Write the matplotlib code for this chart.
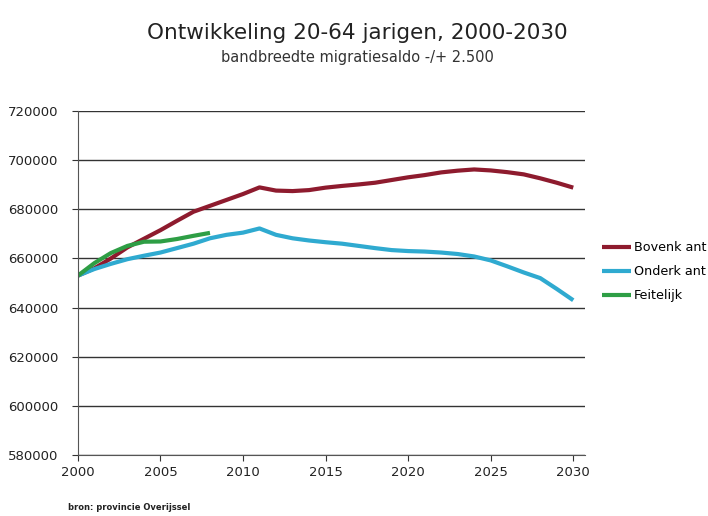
import matplotlib
matplotlib.use('Agg')
import matplotlib.pyplot as plt

# jaren en reeksen
years = list(range(2000, 2031))
bovenkant = [653000, 656000, 660000, 664500, 668000, 671500, 675300, 679000, 681400, 683800,
             686200, 688900, 687600, 687400, 687800, 688800, 689500, 690100, 690800, 691900,
             693000, 693900, 695000, 695700, 696200, 695800, 695100, 694200, 692600, 690800,
             688800]
onderkant = [653000, 655700, 657800, 659700, 661100, 662400, 664200, 666000, 668200, 669600,
             670500, 672200, 669600, 668200, 667300, 666600, 666000, 665100, 664200, 663400,
             663000, 662800, 662400, 661800, 660800, 659200, 656800, 654300, 652000, 647600,
             643000]
feit_years = list(range(2000, 2009))
feitelijk = [653000, 658100, 662200, 665100, 666800, 666900, 667900, 669200, 670400]

yticks = list(range(580000, 720001, 20000))
xticks = [2000, 2005, 2010, 2015, 2020, 2025, 2030]

fig = plt.figure(figsize=(7.08, 5.16), dpi=100)
ax = fig.add_axes([0.110, 0.118, 0.716, 0.667])

lw = 3
ax.plot(years, bovenkant, color='#8E1B2E', lw=lw, label='Bovenk ant', solid_capstyle='butt')
ax.plot(years, onderkant, color='#2FAAD0', lw=lw, label='Onderk ant', solid_capstyle='butt')
ax.plot(feit_years, feitelijk, color='#2E9E45', lw=lw, label='Feitelijk', solid_capstyle='butt')

ax.set_xlim(2000, 2030.7)
ax.set_ylim(580000, 720000)
ax.set_xticks(xticks)
ax.set_yticks(yticks)
ax.tick_params(labelsize=9.5, length=4, direction='out', colors='#333333')
ax.tick_params(axis='y', pad=10)
for lab in ax.get_xticklabels() + ax.get_yticklabels():
    lab.set_color('#222222')
ax.grid(axis='y', color='#333333', lw=1)
ax.set_axisbelow(True)
ax.spines['top'].set_visible(False)
ax.spines['right'].set_visible(False)
ax.spines['left'].set_color('#555555')
ax.spines['bottom'].set_color('#555555')

fig.text(0.505, 0.937, 'Ontwikkeling 20-64 jarigen, 2000-2030', ha='center', va='center',
         fontsize=15.5, color='#222222')
fig.text(0.505, 0.889, 'bandbreedte migratiesaldo -/+ 2.500', ha='center', va='center',
         fontsize=10.5, color='#333333')

ax.legend(loc='upper left', bbox_to_anchor=(0.850, 0.532), bbox_transform=fig.transFigure,
          frameon=False, fontsize=9.2, handlelength=2.3, handletextpad=0.2,
          labelspacing=0.85, borderpad=0, borderaxespad=0)

fig.text(0.096, 0.017, 'bron: provincie Overijssel', fontsize=6, color='#222222',
         fontweight='bold', ha='left', va='center')

fig.savefig('out.png', dpi=100)
